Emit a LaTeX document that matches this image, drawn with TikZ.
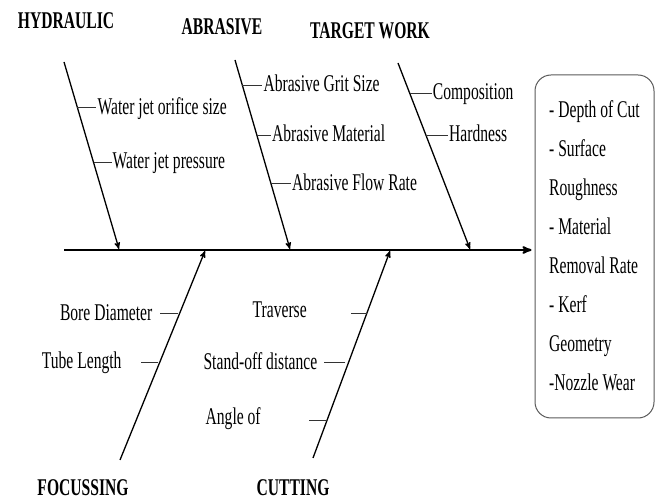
\documentclass[tikz,border=0pt]{standalone}
\usepackage{fontspec}
\setmainfont{Liberation Serif}[FakeStretch=0.65]
\usetikzlibrary{arrows,positioning,calc}

\begin{document}
\begin{tikzpicture}[x=1pt,y=-1pt,>=stealth',
  bone/.style={->,line width=1.3pt},
  tick/.style={line width=1pt,black!80},
  title/.style={font=\fontsize{24}{28}\selectfont\bfseries},
  cause/.style={font=\fontsize{24}{28}\selectfont,inner sep=1pt,text height=17pt,text depth=4pt}]
  \useasboundingbox (0,0) rectangle (656,502);

  % categories
  \node[title] (hyd) at (66,21) {HYDRAULIC};
  \node[title] (abr) at (222,27) {ABRASIVE};
  \node[title] (tgt) at (370,31) {TARGET WORK};
  \node[title] (foc) at (83,488) {FOCUSSING};
  \node[title] (cut) at (293,488) {CUTTING};

  % effect
  \node[draw=black!65,line width=1pt,rounded corners=16pt,minimum width=119pt,minimum height=343pt,
    inner sep=0pt,font=\fontsize{24}{39}\selectfont] (result) at (594.5,246.5)
    {\begin{tabular}{@{}l@{}}
       - Depth of Cut\\- Surface\\Roughness\\- Material\\
       Removal Rate\\- Kerf\\Geometry\\-Nozzle Wear
     \end{tabular}};

  % spine
  \coordinate (spine) at (64,250);
  \draw[->,line width=2pt,shorten >=3pt] (spine) -- (spine -| result.west);

  % bones
  \coordinate (hyd top) at (64,62);   \coordinate (hyd end) at (119,249);
  \coordinate (abr top) at (235,60);  \coordinate (abr end) at (290,249);
  \coordinate (tgt top) at (398,63);  \coordinate (tgt end) at (470,249);
  \coordinate (foc bot) at (120,460); \coordinate (foc end) at (205,251);
  \coordinate (cut bot) at (313,458); \coordinate (cut end) at (390,251);
  \path[bone]
    (hyd top) edge (hyd end)
    (abr top) edge (abr end)
    (tgt top) edge (tgt end)
    (foc bot) edge (foc end)
    (cut bot) edge (cut end);

  % hydraulic causes
  \coordinate (h1) at ($(hyd top)!0.245!(hyd end)$);
  \coordinate (h2) at ($(hyd top)!0.537!(hyd end)$);
  \node[cause,right=19pt of h1] (orifice) {Water jet orifice size};
  \node[cause,right=18pt of h2] (pressure) {Water jet pressure};

  % abrasive causes
  \coordinate (a1) at ($(abr top)!0.133!(abr end)$);
  \coordinate (a2) at ($(abr top)!0.399!(abr end)$);
  \coordinate (a3) at ($(abr top)!0.654!(abr end)$);
  \node[cause,right=20pt of a1] (grit) {Abrasive Grit Size};
  \node[cause,right=14pt of a2] (material) {Abrasive Material};
  \node[cause,right=20pt of a3] (flow) {Abrasive Flow Rate};

  % target work causes
  \coordinate (t1) at ($(tgt top)!0.162!(tgt end)$);
  \coordinate (t2) at ($(tgt top)!0.389!(tgt end)$);
  \node[cause,right=22pt of t1] (comp) {Composition};
  \node[cause,right=22pt of t2] (hard) {Hardness};

  \path[tick]
    (h1) edge (h1 -| orifice.west)
    (h2) edge (h2 -| pressure.west)
    (a1) edge (a1 -| grit.west)
    (a2) edge (a2 -| material.west)
    (a3) edge (a3 -| flow.west)
    (t1) edge (t1 -| comp.west)
    (t2) edge (t2 -| hard.west);

  % focussing causes
  \coordinate (f1) at ($(foc bot)!0.70!(foc end)$);
  \coordinate (f2) at ($(foc bot)!0.467!(foc end)$);
  \node[cause,left=26pt of f1] (bore) {Bore Diameter};
  \node[cause,left=37pt of f2] (tube) {Tube Length};
  \draw[tick,shorten <=2pt,shorten >=6pt] (f1) -- (f1 -| bore.east);
  \draw[tick,shorten <=2pt,shorten >=18pt] (f2) -- (f2 -| tube.east);

  % cutting causes
  \coordinate (c1) at ($(cut bot)!0.70!(cut end)$);
  \coordinate (c2) at ($(cut bot)!0.46!(cut end)$);
  \coordinate (c3) at ($(cut bot)!0.18!(cut end)$);
  \node[cause,left=59pt of c1,yshift=2pt] (trav) {Traverse};
  \node[cause,left=30pt of c2] (standoff) {Stand-off distance};
  \node[cause,left=65pt of c3,yshift=3pt] (angle) {Angle of};
  \draw[tick,shorten >=43pt] (c1) -- (c1 -| trav.east);
  \draw[tick,shorten <=3pt,shorten >=6pt] (c2) -- (c2 -| standoff.east);
  \draw[tick,shorten >=47pt] (c3) -- (c3 -| angle.east);
\end{tikzpicture}
\end{document}
